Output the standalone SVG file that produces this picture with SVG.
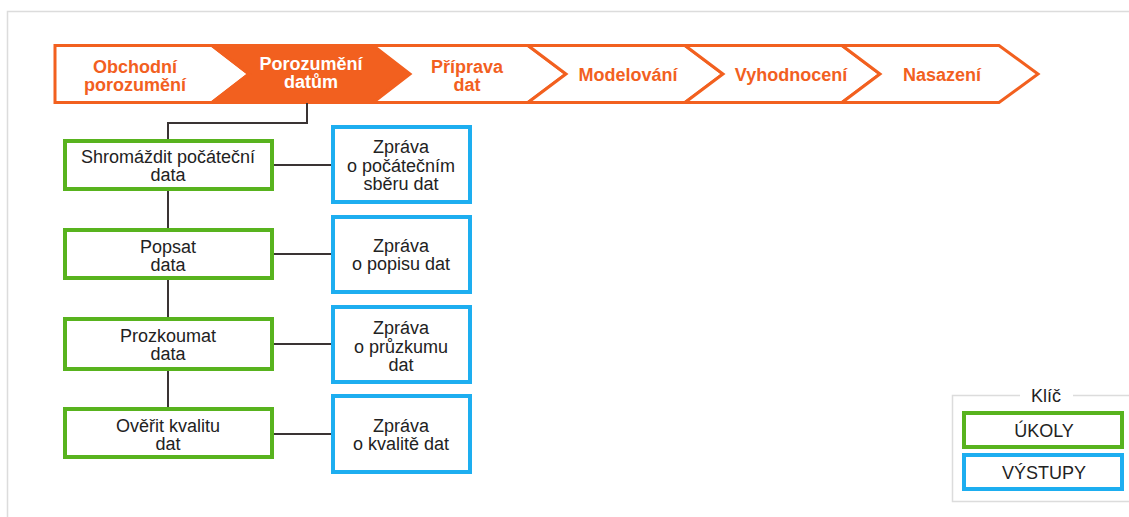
<svg xmlns="http://www.w3.org/2000/svg" width="1129" height="517" viewBox="0 0 1129 517">
<style>
.chev{fill:#fff;stroke:#F2601F;stroke-width:3;stroke-linejoin:miter}
.chev.active{fill:#F2601F}
.ph{font-family:"Liberation Sans",Arial,sans-serif;font-weight:bold;font-size:18px;fill:#F2601F;text-anchor:middle}
.ph.w{fill:#fff}
.task{fill:#fff;stroke:#58B31E;stroke-width:4}
.out{fill:#fff;stroke:#1DAEF0;stroke-width:4}
.t{font-family:"Liberation Sans",Arial,sans-serif;font-size:18px;fill:#222;text-anchor:middle}
.conn{fill:none;stroke:#3a3434;stroke-width:2}
.frame{fill:none;stroke:#dcdcdc;stroke-width:1.5}
</style>
<rect width="1129" height="517" fill="#fff"/>
<path class="frame" d="M7.5,517 V11.5 H1129"/>

<g id="phases">
  <g id="phase-obchodni">
    <polygon class="chev" points="55,45.5 212,45.5 249,74 212,102.5 55,102.5"/>
    <text class="ph" x="135" y="73">Obchodní</text>
    <text class="ph" x="135" y="91">porozumění</text>
  </g>
  <g id="phase-porozumeni">
    <polygon class="chev active" points="212,45.5 373,45.5 410,74 373,102.5 212,102.5 249,74"/>
    <text class="ph w" x="311" y="70">Porozumění</text>
    <text class="ph w" x="311" y="88">datům</text>
  </g>
  <g id="phase-priprava">
    <polygon class="chev" points="373,45.5 528,45.5 566,74 528,102.5 373,102.5 410,74"/>
    <text class="ph" x="467" y="73">Příprava</text>
    <text class="ph" x="467" y="91">dat</text>
  </g>
  <g id="phase-modelovani">
    <polygon class="chev" points="528,45.5 685,45.5 723,74 685,102.5 528,102.5 566,74"/>
    <text class="ph" x="628" y="81">Modelování</text>
  </g>
  <g id="phase-vyhodnoceni">
    <polygon class="chev" points="685,45.5 842,45.5 880,74 842,102.5 685,102.5 723,74"/>
    <text class="ph" x="791" y="81">Vyhodnocení</text>
  </g>
  <g id="phase-nasazeni">
    <polygon class="chev" points="842,45.5 999,45.5 1038,74 999,102.5 842,102.5 880,74"/>
    <text class="ph" x="942" y="81">Nasazení</text>
  </g>
</g>

<g id="connectors">
  <path class="conn" d="M307,103 V123 H168 V140"/>
  <path class="conn" d="M168,190 V229"/>
  <path class="conn" d="M168,278 V318"/>
  <path class="conn" d="M168,370 V408"/>
  <path class="conn" d="M273,165 H332"/>
  <path class="conn" d="M273,254 H332"/>
  <path class="conn" d="M273,344 H332"/>
  <path class="conn" d="M273,434 H332"/>
</g>

<g id="task1">
  <rect class="task" x="65" y="141" width="207" height="48"/>
  <text class="t" x="168" y="163">Shromáždit počáteční</text>
  <text class="t" x="168" y="181">data</text>
</g>
<g id="task2">
  <rect class="task" x="65" y="230" width="207" height="48"/>
  <text class="t" x="168" y="253">Popsat</text>
  <text class="t" x="168" y="271">data</text>
</g>
<g id="task3">
  <rect class="task" x="65" y="319" width="207" height="50"/>
  <text class="t" x="168" y="342">Prozkoumat</text>
  <text class="t" x="168" y="360">data</text>
</g>
<g id="task4">
  <rect class="task" x="65" y="409" width="207" height="48"/>
  <text class="t" x="168" y="432">Ověřit kvalitu</text>
  <text class="t" x="168" y="450">dat</text>
</g>

<g id="out1">
  <rect class="out" x="333" y="127" width="137" height="75"/>
  <text class="t" x="401" y="153">Zpráva</text>
  <text class="t" x="401" y="172">o počátečním</text>
  <text class="t" x="401" y="190">sběru dat</text>
</g>
<g id="out2">
  <rect class="out" x="333" y="217" width="137" height="75"/>
  <text class="t" x="401" y="252">Zpráva</text>
  <text class="t" x="401" y="270">o popisu dat</text>
</g>
<g id="out3">
  <rect class="out" x="333" y="307" width="137" height="75"/>
  <text class="t" x="401" y="334">Zpráva</text>
  <text class="t" x="401" y="353">o průzkumu</text>
  <text class="t" x="401" y="371">dat</text>
</g>
<g id="out4">
  <rect class="out" x="333" y="396" width="137" height="76"/>
  <text class="t" x="401" y="432">Zpráva</text>
  <text class="t" x="401" y="450">o kvalitě dat</text>
</g>

<g id="legend">
  <path class="frame" d="M1020,395.5 H952.5 V501.5 H1129 M1073,395.5 H1129"/>
  <text class="t" x="1046" y="402">Klíč</text>
  <g id="legend-tasks">
    <rect class="task" x="964" y="413" width="158" height="34"/>
    <text class="t" x="1044" y="437">ÚKOLY</text>
  </g>
  <g id="legend-outputs">
    <rect class="out" x="964" y="455" width="158" height="34"/>
    <text class="t" x="1044" y="479">VÝSTUPY</text>
  </g>
</g>
</svg>
